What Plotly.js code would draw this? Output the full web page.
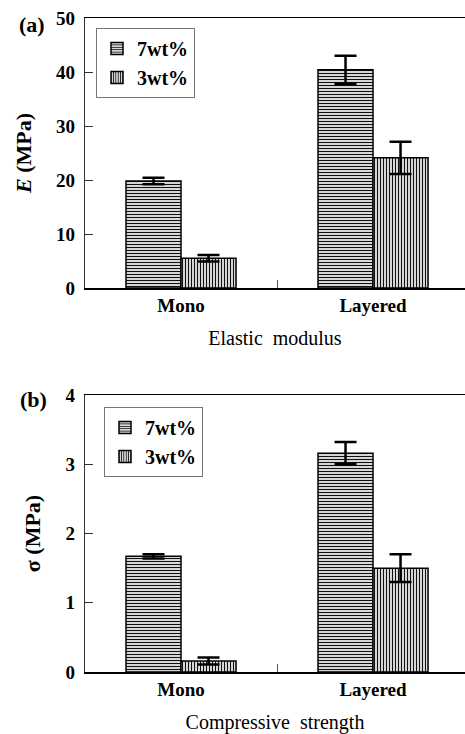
<!DOCTYPE html>
<html>
<head>
<meta charset="utf-8">
<script src="https://cdn.plot.ly/plotly-3.0.1.min.js"></script>
<style>html,body{margin:0;padding:0;background:#fff;}#chart{width:465px;height:734px;}</style>
</head>
<body>
<div id="chart"></div>
<script>
const categories = ["Mono", "Layered"];
const seriesNames = ["7wt%", "3wt%"];
// (a) Elastic modulus E (MPa)
const modulus7 = [19.8, 40.4];
const modulus7Err = [0.6, 2.6];
const modulus3 = [5.5, 24.1];
const modulus3Err = [0.6, 3.0];
// (b) Compressive strength sigma (MPa)
const strength7 = [1.67, 3.16];
const strength7Err = [0.03, 0.16];
const strength3 = [0.16, 1.50];
const strength3Err = [0.05, 0.20];
const yTicksA = [0, 10, 20, 30, 40, 50];
const yTicksB = [0, 1, 2, 3, 4];

const serif = "Liberation Serif";
function barTrace(y, err, name, shape, xa, ya, legend) {
  return {
    type: "bar", x: categories, y: y, name: name, xaxis: xa, yaxis: ya, legend: legend,
    marker: {color: "white", line: {color: "black", width: 1.5},
      pattern: {shape: shape, size: 3, solidity: 0.45, fgcolor: "#111", bgcolor: "white"}},
    error_y: {type: "data", array: err, visible: true, color: "black", thickness: 2.5, width: 11}
  };
}
const data = [
  barTrace(modulus7, modulus7Err, seriesNames[0], "-", "x", "y", "legend"),
  barTrace(modulus3, modulus3Err, seriesNames[1], "|", "x", "y", "legend"),
  barTrace(strength7, strength7Err, seriesNames[0], "-", "x2", "y2", "legend2"),
  barTrace(strength3, strength3Err, seriesNames[1], "|", "x2", "y2", "legend2")
];
const tickFont = {family: serif, size: 19, color: "black", weight: 700};
function xAxis(title, anchor) {
  return {
    anchor: anchor, domain: [85/465, 1], range: [-0.5, 1.479],
    showline: true, linecolor: "black", linewidth: 1.5, mirror: true,
    ticks: "inside", ticklen: 8, tickwidth: 1, tickcolor: "#555", tickson: "boundaries",
    tickfont: tickFont, showgrid: false, zeroline: false, fixedrange: true,
    title: {text: title, font: {family: serif, size: 20, color: "black"}, standoff: 15}
  };
}
function yAxis(title, domain, range, ticks, anchor) {
  return {
    anchor: anchor, domain: domain, range: range, tickvals: ticks, ticktext: ticks.map(String),
    showline: true, linecolor: "#333", linewidth: 1.2,
    ticks: "inside", ticklen: 8, tickwidth: 1, tickcolor: "#333", ticklabelstandoff: 5,
    tickfont: tickFont, showgrid: false, zeroline: false, fixedrange: true,
    title: {text: title, font: {family: serif, size: 22, color: "black", weight: 700}, standoff: 18}
  };
}
const legendFont = {family: serif, size: 20, color: "black", weight: 700};
const layout = {
  width: 465, height: 734, margin: {l: 0, r: 0, t: 0, b: 0},
  paper_bgcolor: "white", plot_bgcolor: "white",
  barmode: "group", bargap: 0.427, bargroupgap: 0,
  xaxis: xAxis("Elastic  modulus", "y"),
  yaxis: yAxis("<i>E</i> (MPa)", [1 - 288/734, 1 - 18/734], [0, 50], yTicksA, "x"),
  xaxis2: xAxis("Compressive  strength", "y2"),
  yaxis2: yAxis("σ (MPa)", [1 - 672/734, 1 - 395/734], [0, 4], yTicksB, "x2"),
  legend: {x: 96/465, y: 1 - 28/734, xanchor: "left", yanchor: "top", bgcolor: "white",
    bordercolor: "#777", borderwidth: 1, font: legendFont, itemwidth: 30,
    traceorder: "normal", tracegroupgap: 0},
  legend2: {x: 104/465, y: 1 - 407/734, xanchor: "left", yanchor: "top", bgcolor: "white",
    bordercolor: "#777", borderwidth: 1, font: legendFont, itemwidth: 30,
    traceorder: "normal", tracegroupgap: 0},
  annotations: [
    {text: "(a)", xref: "paper", yref: "paper", x: 32/465, y: 1 - 24/734, showarrow: false,
     xanchor: "center", yanchor: "middle", font: {family: serif, size: 22, color: "black", weight: 700}},
    {text: "(b)", xref: "paper", yref: "paper", x: 33/465, y: 1 - 399/734, showarrow: false,
     xanchor: "center", yanchor: "middle", font: {family: serif, size: 22, color: "black", weight: 700}}
  ],
  showlegend: true
};
Plotly.newPlot("chart", data, layout, {displayModeBar: false, staticPlot: true});
</script>
</body>
</html>
